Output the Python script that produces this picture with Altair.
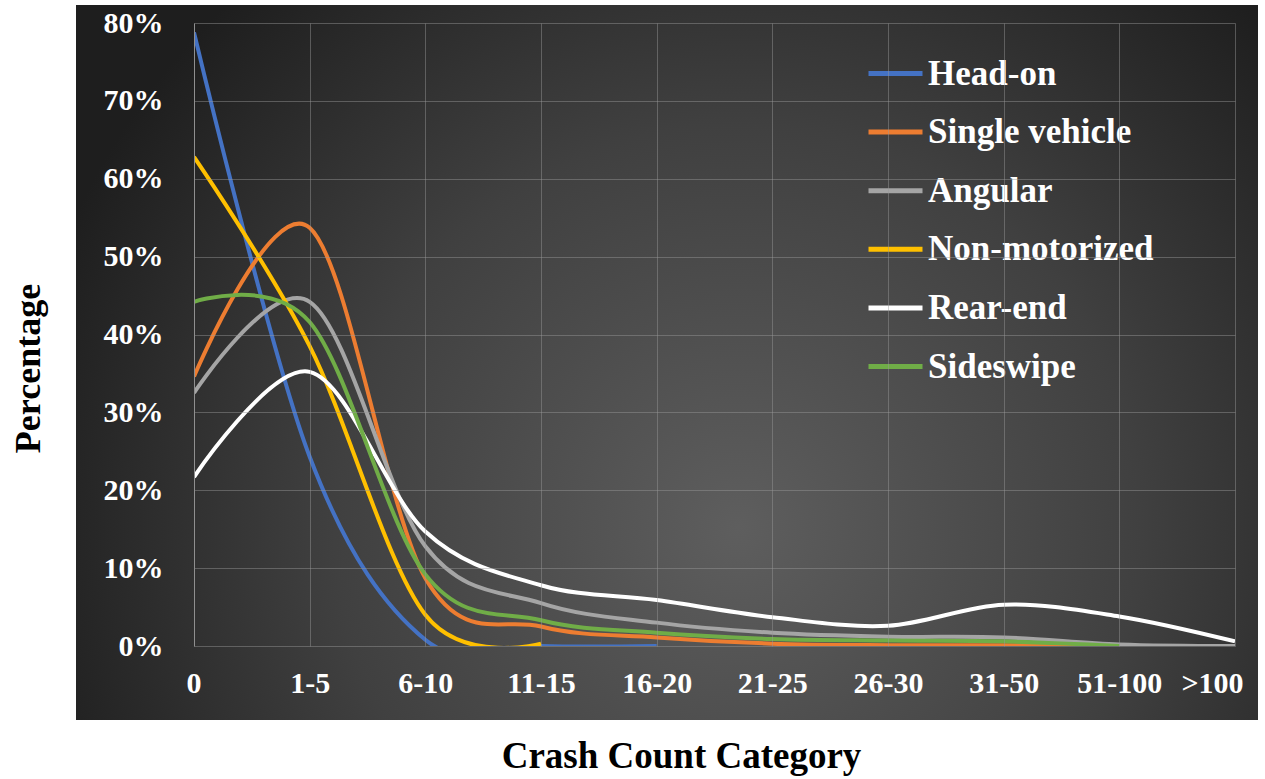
import altair as alt
import pandas as pd

categories = ["0", "1-5", "6-10", "11-15", "16-20", "21-25", "26-30", "31-50", "51-100", ">100"]
series_names = ["Head-on", "Single vehicle", "Angular", "Non-motorized", "Rear-end", "Sideswipe"]
series_colors = ["#4472C4", "#ED7D31", "#A5A5A5", "#FFC000", "#FFFFFF", "#70AD47"]

head_on = [78.8, 24.3, 0.8, 0.0, 0.0, None, None, None, None, None]
single_vehicle = [34.6, 53.7, 8.7, 2.5, 1.1, 0.3, 0.1, 0.1, 0.0, None]
angular = [32.5, 44.2, 12.8, 5.5, 3.0, 1.7, 1.2, 1.1, 0.2, 0.0]
non_motorized = [62.8, 38.5, 4.0, 0.3, None, None, None, None, None, None]
rear_end = [21.7, 35.2, 14.7, 7.8, 5.9, 3.7, 2.6, 5.3, 3.8, 0.6]
sideswipe = [44.2, 41.6, 9.2, 3.3, 1.7, 0.9, 0.7, 0.6, 0.0, None]

y_ticks = [0, 10, 20, 30, 40, 50, 60, 70, 80]

all_series = [head_on, single_vehicle, angular, non_motorized, rear_end, sideswipe]
rows = []
for name, vals in zip(series_names, all_series):
    for i, (c, v) in enumerate(zip(categories, vals)):
        if v is not None:
            rows.append({"category": c, "series": name, "value": v, "idx": i})
df = pd.DataFrame(rows)

W, H = 1041, 623
FONT = "Liberation Serif"

grad = alt.RadialGradient(
    gradient="radial",
    x1=0.56, y1=0.64, r1=0.0,
    x2=0.56, y2=0.64, r2=0.62,
    stops=[
        alt.GradientStop(offset=0, color="#5e5e5e"),
        alt.GradientStop(offset=0.55, color="#404040"),
        alt.GradientStop(offset=1, color="#1e1e1e"),
    ],
)

bg = alt.Chart(pd.DataFrame({"a": [0]})).mark_rect(fill=grad).encode(
    x=alt.value(-118), x2=alt.value(1064), y=alt.value(-18), y2=alt.value(697)
)

lines = alt.Chart(df).mark_line(interpolate="cardinal", strokeWidth=4, clip=True).encode(
    x=alt.X(
        "category:N",
        sort=categories,
        scale=alt.Scale(type="point", padding=0, domain=categories),
        axis=alt.Axis(
            title="Crash Count Category",
            labelAngle=0,
            grid=True,
            ticks=False,
            domain=False,
            labelPadding=22,
            labelFlush=True,
            labelFlushOffset=8,
            labelFont=FONT,
            labelFontSize=30,
            labelFontWeight="bold",
            labelColor="#ffffff",
            titleFont=FONT,
            titleFontSize=37,
            titleFontWeight="bold",
            titleColor="#000000",
            titleX=487,
            titleY=110,
            titleAnchor="start",
            titleAlign="center",
            titleBaseline="middle",
            zindex=1,
        ),
    ),
    y=alt.Y(
        "value:Q",
        scale=alt.Scale(domain=[0, 80], nice=False, zero=True),
        axis=alt.Axis(
            title="Percentage",
            values=y_ticks,
            labelExpr="datum.value + '%'",
            grid=True,
            ticks=False,
            domain=True,
            domainColor="#8f8f8f",
            labelPadding=31,
            labelFont=FONT,
            labelFontSize=30,
            labelFontWeight="bold",
            labelColor="#ffffff",
            titleFont=FONT,
            titleFontSize=36,
            titleFontWeight="bold",
            titleColor="#000000",
            titleAngle=270,
            titleX=-166,
            titleY=345,
            titleAlign="center",
            titleBaseline="middle",
            zindex=1,
        ),
    ),
    order=alt.Order("idx:Q"),
    color=alt.Color(
        "series:N",
        sort=series_names,
        scale=alt.Scale(domain=series_names, range=series_colors),
        legend=alt.Legend(
            title=None,
            orient="none",
            legendX=672,
            legendY=21,
            symbolType="stroke",
            symbolSize=2916,
            symbolStrokeWidth=5,
            labelFont=FONT,
            labelFontSize=35,
            labelFontWeight="bold",
            labelColor="#ffffff",
            labelOffset=3,
            labelLimit=600,
            rowPadding=10.6,
            padding=0,
        ),
    ),
)

chart = (
    alt.layer(bg, lines)
    .properties(
        width=W,
        height=H,
        autosize=alt.AutoSizeParams(type="none"),
        padding={"left": 194, "top": 23, "right": 30, "bottom": 133},
        background="#ffffff",
    )
    .configure_view(stroke=None)
    .configure_axis(gridColor="#9a9a9a", gridOpacity=0.45, gridWidth=1)
)

chart.save("out.html", embed_options={"renderer": "svg", "actions": False})
